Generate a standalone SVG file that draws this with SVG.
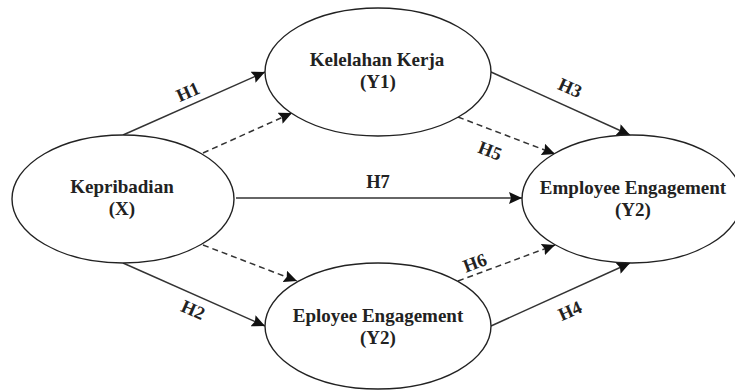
<svg xmlns="http://www.w3.org/2000/svg" width="735" height="390" viewBox="0 0 735 390">
<defs>
<style>
.node{fill:#fff;stroke:#222;stroke-width:1.4}
.t{font-family:"Liberation Serif","Times New Roman",serif;font-weight:bold;font-size:19px;fill:#222;text-anchor:middle}
.lbl{font-family:"Liberation Serif","Times New Roman",serif;font-weight:bold;font-size:18.5px;fill:#222;text-anchor:middle;dominant-baseline:central}
.e{fill:none;stroke:#333;stroke-width:1.5}
.d{fill:none;stroke:#333;stroke-width:1.5;stroke-dasharray:6 4}
</style>
<marker id="arr" markerUnits="userSpaceOnUse" markerWidth="14" markerHeight="12" viewBox="0 0 14 12" refX="13" refY="6" orient="auto">
<path d="M0,0 L13,6 L0,12 L2,6 z" fill="#111"/>
</marker>
</defs>
<rect width="735" height="390" fill="#fff"/>
<g id="connectors">
<line class="e" x1="123" y1="135" x2="265" y2="72" marker-end="url(#arr)"/>
<line class="d" x1="203" y1="153" x2="292" y2="113" marker-end="url(#arr)"/>
<line class="e" x1="236" y1="198" x2="522" y2="198" marker-end="url(#arr)"/>
<line class="d" x1="203" y1="245" x2="297" y2="281" marker-end="url(#arr)"/>
<line class="e" x1="123" y1="263" x2="265" y2="326" marker-end="url(#arr)"/>
<line class="e" x1="491" y1="72" x2="630" y2="135" marker-end="url(#arr)"/>
<line class="d" x1="458" y1="117" x2="555" y2="154" marker-end="url(#arr)"/>
<line class="d" x1="458" y1="281" x2="555" y2="245" marker-end="url(#arr)"/>
<line class="e" x1="491" y1="326" x2="630" y2="263" marker-end="url(#arr)"/>
<text class="lbl" transform="translate(188,92) rotate(-24)">H1</text>
<text class="lbl" transform="translate(193,310) rotate(24)">H2</text>
<text class="lbl" transform="translate(570,88) rotate(24)">H3</text>
<text class="lbl" transform="translate(570,311) rotate(-24)">H4</text>
<text class="lbl" transform="translate(490,151) rotate(21)">H5</text>
<text class="lbl" transform="translate(475,263) rotate(-21)">H6</text>
<text class="lbl" transform="translate(378,182)">H7</text>
</g>
<g id="kepribadian">
<ellipse class="node" cx="123" cy="199" rx="111" ry="64"/>
<text class="t" x="122" y="193">Kepribadian</text>
<text class="t" x="122" y="215">(X)</text>
</g>
<g id="kelelahan">
<ellipse class="node" cx="378" cy="72" rx="113" ry="64"/>
<text class="t" x="377" y="66">Kelelahan Kerja</text>
<text class="t" x="378" y="88">(Y1)</text>
</g>
<g id="employee">
<ellipse class="node" cx="632" cy="199" rx="110" ry="64"/>
<text class="t" x="633" y="194">Employee Engagement</text>
<text class="t" x="633" y="216">(Y2)</text>
</g>
<g id="eployee">
<ellipse class="node" cx="378" cy="326" rx="113" ry="63"/>
<text class="t" x="378" y="322">Eployee Engagement</text>
<text class="t" x="378" y="344">(Y2)</text>
</g>
</svg>
